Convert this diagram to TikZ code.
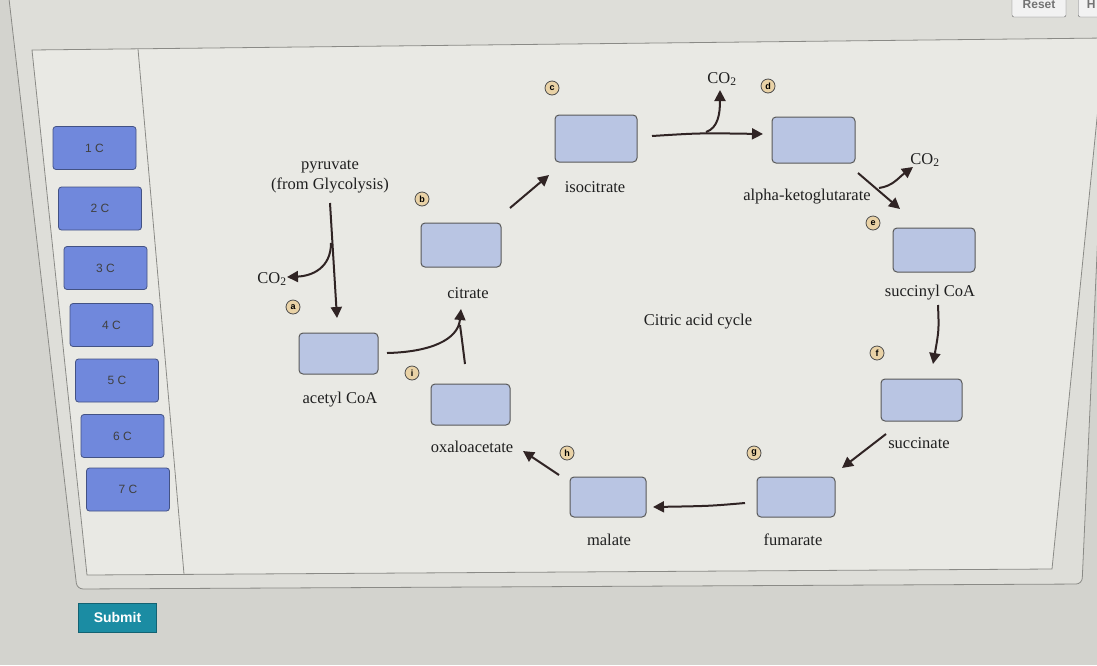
\documentclass[tikz,border=0pt]{standalone}
\usepackage{fontspec}
\setmainfont{Liberation Serif}
\newfontfamily\tilefont{Liberation Sans}
\usetikzlibrary{arrows.meta}
\definecolor{bgc}{HTML}{D3D3CE}
\definecolor{outerc}{HTML}{DEDED9}
\definecolor{panelc}{HTML}{E9E9E4}
\definecolor{tilec}{HTML}{7088DC}
\definecolor{boxc}{HTML}{B9C5E3}
\definecolor{arrc}{HTML}{302424}
\definecolor{badgec}{HTML}{E9D2A6}
\definecolor{submitc}{HTML}{1B8CA3}
\definecolor{framec}{HTML}{8A8A86}
\begin{document}
\begin{tikzpicture}[x=1pt,y=-1pt,
  tile/.style={draw=tilec!60!black, fill=tilec, rounded corners=3pt, line width=0.8pt, minimum width=83pt, minimum height=43pt, font=\tilefont\fontsize{12}{14}\selectfont, text=black!75},
  slot/.style={draw=black!65, fill=boxc, rounded corners=4pt, line width=1pt},
  lbl/.style={font=\fontsize{16.5}{19}\selectfont, text=black!88, inner sep=0pt},
  badge/.style={circle, draw=black!70, fill=badgec, line width=0.8pt, inner sep=0pt, minimum size=14pt, font=\tilefont\bfseries\fontsize{9}{9}\selectfont},
  arr/.style={draw=arrc, line width=2pt, -{Triangle[length=11pt,width=11pt]}},
  plainline/.style={draw=arrc, line width=2pt},
  framel/.style={draw=framec, line width=0.8pt},
]
\useasboundingbox (0,0) rectangle (1097,665);
\fill[bgc] (0,0) rectangle (1097,665);
% outer frame
\path[fill=outerc, framel, rounded corners=6pt] (8,-10) -- (77,589) -- (1082,584) -- (1104,100) -- (1104,-10) -- cycle;
% panel
\path[fill=panelc, framel] (32,50) -- (1105,38) -- (1052,569) -- (87,575) -- cycle;
\draw[framel] (138,49) -- (184,574);
% top buttons
\node[draw=black!60, fill=black!5, rounded corners=2pt, minimum width=54pt, minimum height=26pt, font=\tilefont\bfseries\fontsize{12}{12}\selectfont, text=black!55] (reset) at (1039,4) {Reset};
\node[draw=black!60, fill=black!5, rounded corners=2pt, minimum width=26pt, minimum height=26pt, font=\tilefont\bfseries\fontsize{12}{12}\selectfont, text=black!55, anchor=west] (help) at (1078,4) {H};
% tiles
\node[tile] (t1) at (94.5,148) {1 C};
\node[tile] (t2) at (100,208.5) {2 C};
\node[tile] (t3) at (105.5,268) {3 C};
\node[tile] (t4) at (111.5,325) {4 C};
\node[tile] (t5) at (117,380.5) {5 C};
\node[tile] (t6) at (122.5,436) {6 C};
\node[tile] (t7) at (128,489.5) {7 C};
\node[fill=submitc, draw=submitc!70!black, minimum width=78pt, minimum height=29pt, font=\tilefont\bfseries\fontsize{14}{14}\selectfont, text=white] (submit) at (117.5,617.5) {Submit};
% slots
\node[slot, minimum width=82pt, minimum height=47pt] (iso) at (596,138.5) {};
\node[slot, minimum width=83pt, minimum height=46pt] (akg) at (813.5,140) {};
\node[slot, minimum width=82pt, minimum height=44pt] (sca) at (934,250) {};
\node[slot, minimum width=81pt, minimum height=42pt] (succ) at (921.5,400) {};
\node[slot, minimum width=78pt, minimum height=40pt] (fum) at (796,497) {};
\node[slot, minimum width=76pt, minimum height=40pt] (mal) at (608,497) {};
\node[slot, minimum width=79pt, minimum height=41pt] (oaa) at (470.5,404.5) {};
\node[slot, minimum width=79pt, minimum height=41pt] (acoa) at (338.5,353.5) {};
\node[slot, minimum width=80pt, minimum height=44pt] (cit) at (461,245) {};
% labels
\node[lbl] (liso) at (595,187) {isocitrate};
\node[lbl] (lakg) at (807,197) {alpha-ketoglutarate};
\node[lbl] (lsca) at (930,293) {succinyl CoA};
\node[lbl] (lsucc) at (919,443) {succinate};
\node[lbl] (lfum) at (793,540) {fumarate};
\node[lbl] (lmal) at (609,540) {malate};
\node[lbl] (loaa) at (472,447) {oxaloacetate};
\node[lbl] (lacoa) at (340,400) {acetyl CoA};
\node[lbl] (lcit) at (468,293) {citrate};
\node[lbl, align=center, font=\fontsize{16.5}{20}\selectfont] (lpyr) at (330,177) {pyruvate\\(from Glycolysis)};
\node[lbl] (lcycle) at (698,322) {Citric acid cycle};
\node[lbl] (co2a) at (272,279) {CO\textsubscript{2}};
\node[lbl] (co2d) at (722,79) {CO\textsubscript{2}};
\node[lbl] (co2e) at (925,160) {CO\textsubscript{2}};
% badges
\node[badge] (ba) at (293,307) {a};
\node[badge] (bb) at (422,199) {b};
\node[badge] (bc) at (552,88) {c};
\node[badge] (bd) at (768,86) {d};
\node[badge] (be) at (873,223) {e};
\node[badge] (bf) at (877,353) {f};
\node[badge] (bg) at (754,453) {g};
\node[badge] (bh) at (567,453) {h};
\node[badge] (bi) at (412,373) {i};
% arrow coordinates
\coordinate (p1) at (330,203);
\coordinate (p2) at (337,318);
\coordinate (p3) at (331,243);
\coordinate (p4) at (287,277);
\coordinate (c1) at (510,208);
\coordinate (c2) at (549,175);
\coordinate (i1) at (652,136);
\coordinate (i2) at (763,134);
\coordinate (i3) at (706,132);
\coordinate (i4) at (720,90);
\coordinate (k1) at (858,173);
\coordinate (k2) at (900,209);
\coordinate (k3) at (879,188);
\coordinate (k4) at (913,167);
\coordinate (s1) at (938,305);
\coordinate (s2) at (933,364);
\coordinate (u1) at (886,434);
\coordinate (u2) at (842,468);
\coordinate (f1) at (745,503);
\coordinate (f2) at (653,507);
\coordinate (m1) at (559,475);
\coordinate (m2) at (523,451);
\coordinate (a1) at (387,353);
\coordinate (a2) at (461,309);
\coordinate (o1) at (465,364);
\coordinate (o2) at (460,325);
% arrows
\draw[arr] (p1) -- (p2);
\draw[arr] (p3) .. controls (331,268) and (312,276) .. (p4);
\draw[arr] (c1) -- (c2);
\draw[arr] (i1) .. controls (700,133) .. (i2);
\draw[arr] (i3) .. controls (718,128) and (720,114) .. (i4);
\draw[arr] (k1) -- (k2);
\draw[arr] (k3) .. controls (893,186) and (898,178) .. (k4);
\draw[arr] (s1) .. controls (939,330) .. (s2);
\draw[arr] (u1) -- (u2);
\draw[arr] (f1) .. controls (710,506) .. (f2);
\draw[arr] (m1) -- (m2);
\draw[arr] (a1) .. controls (430,352) and (458,340) .. (a2);
\draw[plainline] (o1) .. controls (462,340) .. (o2);
\end{tikzpicture}
\end{document}
